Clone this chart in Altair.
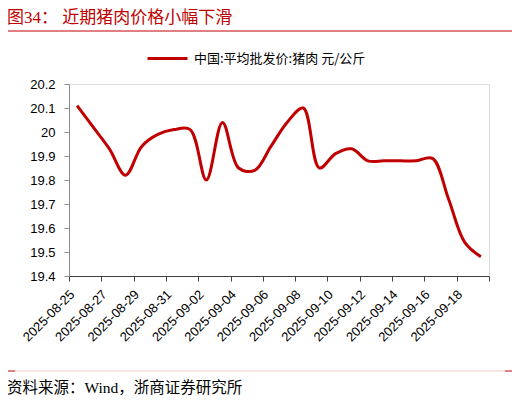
import altair as alt
import pandas as pd

# ---- data ----
dates = [
    "2025-08-25", "2025-08-26", "2025-08-27", "2025-08-28", "2025-08-29",
    "2025-08-30", "2025-08-31", "2025-09-01", "2025-09-02", "2025-09-03",
    "2025-09-04", "2025-09-05", "2025-09-06", "2025-09-07", "2025-09-08",
    "2025-09-09", "2025-09-10", "2025-09-11", "2025-09-12", "2025-09-13",
    "2025-09-14", "2025-09-15", "2025-09-16", "2025-09-17", "2025-09-18",
    "2025-09-19",
]
values = [
    20.11, 20.02, 19.93, 19.82, 19.94,
    19.99, 20.01, 20.01, 19.80, 20.04,
    19.85, 19.84, 19.94, 20.04, 20.10,
    19.85, 19.91, 19.93, 19.88, 19.88,
    19.88, 19.88, 19.89, 19.72, 19.54,
    19.48,
]
y_ticks = [19.4, 19.5, 19.6, 19.7, 19.8, 19.9, 20.0, 20.1, 20.2]
x_tick_dates = [
    "2025-08-25", "2025-08-27", "2025-08-29", "2025-08-31", "2025-09-02",
    "2025-09-04", "2025-09-06", "2025-09-08", "2025-09-10", "2025-09-12",
    "2025-09-14", "2025-09-16", "2025-09-18", "2025-09-20",
]
series_name = "中国:平均批发价:猪肉 元/公斤"
title_text = "图34：  近期猪肉价格小幅下滑"
source_text = "资料来源：Wind，浙商证券研究所"

RED = "#c00000"
CJK = "Liberation Serif, Noto Sans CJK SC"
LAT = "Liberation Sans, Arial"


def dt(s):
    y, m, d = (int(p) for p in s.split("-"))
    return alt.DateTime(year=y, month=m, date=d)


df = pd.DataFrame({
    "date": [d + "T12:00:00" for d in dates],
    "value": values,
    "series": [series_name] * len(dates),
})

W, H = 420, 192

line = alt.Chart(df).mark_line(
    strokeWidth=3, interpolate="catmull-rom"
).encode(
    x=alt.X(
        "date:T",
        scale=alt.Scale(domain=[dt("2025-08-25"), dt("2025-09-20")]),
        axis=alt.Axis(
            title=None,
            values=[dt(s) for s in x_tick_dates],
            labelExpr="timeFormat(datum.value, '%Y-%m-%d') == '2025-09-20' ? '' : timeFormat(datum.value, '%Y-%m-%d')",
            labelAngle=-45,
            labelAlign="right",
            labelBaseline="middle",
            labelFont=LAT,
            labelFontSize=13,
            labelColor="#000000",
            labelPadding=11,
            labelOffset=3,
            domainColor="#404040",
            tickColor="#404040",
            tickSize=5,
            grid=False,
            labelOverlap=False,
        ),
    ),
    y=alt.Y(
        "value:Q",
        scale=alt.Scale(domain=[19.4, 20.2], nice=False, zero=False),
        axis=alt.Axis(
            title=None,
            values=y_ticks,
            format="~g",
            labelFont=LAT,
            labelFontSize=13,
            labelColor="#000000",
            labelPadding=9,
            domainColor="#8c8c8c",
            tickColor="#8c8c8c",
            tickSize=5,
            grid=False,
        ),
    ),
    color=alt.Color(
        "series:N",
        scale=alt.Scale(range=[RED]),
        legend=alt.Legend(
            title=None,
            orient="none",
            legendX=77,
            legendY=-47,
            symbolType="stroke",
            symbolSize=1600,
            symbolStrokeWidth=3,
            labelFont="Noto Sans CJK SC",
            labelFontSize=13,
            labelColor="#000000",
            labelOffset=5,
            labelLimit=400,
        ),
    ),
)

one = alt.Data(values=[{}])

title_mark = alt.Chart(one).mark_text(
    text=title_text, align="left", baseline="middle", font=CJK,
    fontSize=17, color=RED,
).encode(x=alt.value(-62), y=alt.value(-66.5))

title_rule = alt.Chart(one).mark_rule(color=RED, strokeWidth=1).encode(
    x=alt.value(-64), x2=alt.value(446), y=alt.value(-53)
)

bottom_rule = alt.Chart(one).mark_rule(color="#f4cccc", strokeWidth=1).encode(
    x=alt.value(-54), x2=alt.value(436), y=alt.value(287)
)
bottom_left = alt.Chart(one).mark_rule(color=RED, strokeWidth=1).encode(
    x=alt.value(-64), x2=alt.value(-54), y=alt.value(287)
)
bottom_right = alt.Chart(one).mark_rule(color=RED, strokeWidth=1).encode(
    x=alt.value(436), x2=alt.value(446), y=alt.value(287)
)

source_mark = alt.Chart(one).mark_text(
    text=source_text, align="left", baseline="middle", font=CJK,
    fontSize=15.5, color="#000000",
).encode(x=alt.value(-62), y=alt.value(304))

chart = alt.layer(
    line, title_mark, title_rule, bottom_rule, bottom_left, bottom_right, source_mark
).properties(
    width=W,
    height=H,
    autosize=alt.AutoSizeParams(type="none"),
    padding={"left": 61, "top": 76, "right": 23, "bottom": 126},
).configure_view(stroke=None).configure(background="white")

chart.save("out.html", embed_options={"renderer": "svg", "actions": False})
